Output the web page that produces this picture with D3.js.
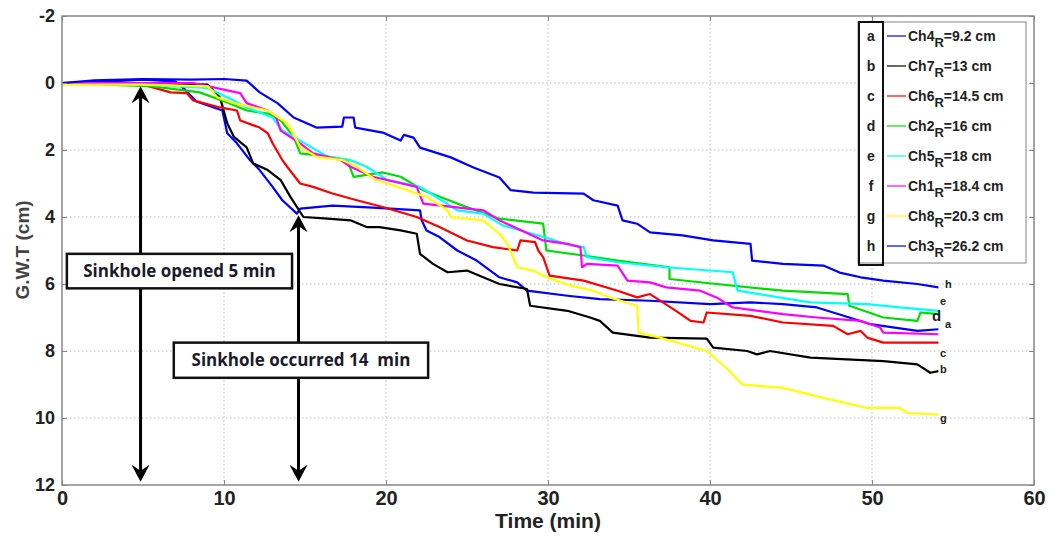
<!DOCTYPE html>
<html>
<head>
<meta charset="utf-8">
<script src="https://cdn.jsdelivr.net/npm/d3@7"></script>
<style>
  body { margin: 0; background: #fff; }
  svg { display: block; }
</style>
</head>
<body>
<svg id="chart" width="1049" height="539"></svg>
<script>
// data: [time (min), G.W.T (cm)]
var serA = [[0,0],[3,-0.05],[5,-0.1],[7,-0.05],[7.6,0.2],[8.3,0.55],[9.9,0.82],[10.2,1.5],[10.8,1.8],[11.6,2.3],[12.2,2.6],[13,3.1],[13.6,3.5],[14.5,3.9],[14.7,3.75],[16.7,3.66],[19.2,3.72],[22.1,3.8],[22.2,4.1],[22.5,4.4],[23.3,4.6],[24.4,5.0],[25.6,5.3],[27,5.8],[28.1,5.95],[28.7,6.2],[31.2,6.35],[33.2,6.45],[36.3,6.5],[40,6.6],[42.5,6.55],[44.5,6.6],[46.6,6.7],[48.6,7.0],[49.9,7.2],[52.8,7.4],[54.1,7.35]];
var serB = [[0,0],[5,0],[9,0.05],[9.75,0.43],[10.2,1.2],[10.6,1.6],[11.4,1.92],[11.8,2.4],[12.7,2.6],[13.5,2.9],[14.1,3.4],[14.9,4.0],[16.4,4.05],[17.8,4.1],[18.8,4.3],[19.6,4.3],[20.9,4.4],[21.9,4.5],[22.1,5.1],[22.9,5.4],[23.8,5.65],[25,5.6],[26,5.8],[27,6.0],[28.7,6.15],[28.9,6.65],[31.2,6.8],[32.6,7.0],[33.2,7.1],[34,7.45],[36.3,7.6],[39.8,7.63],[40.2,7.9],[42.3,8.0],[42.9,8.1],[43.7,8.0],[46.2,8.2],[50.7,8.3],[52.8,8.4],[53.6,8.65],[54.1,8.6]];
var serC = [[0,0],[5,0.05],[6.7,0.28],[7.7,0.3],[8.1,0.52],[9.75,0.73],[10.8,0.82],[11,1.12],[12.2,1.33],[12.7,1.5],[13,1.8],[13.6,2.3],[13.9,2.5],[14.7,3.0],[15.5,3.1],[16.7,3.3],[18.2,3.5],[19.8,3.7],[21.9,4.0],[23.3,4.3],[25,4.7],[26.6,4.9],[28.1,5.0],[28.3,4.7],[29.2,4.75],[29.4,5.0],[29.7,5.2],[30.1,5.75],[32.2,5.9],[34.3,6.2],[35.5,6.4],[36.3,6.3],[37.9,6.8],[38.8,7.1],[39.6,7.15],[39.8,6.85],[42.5,6.95],[44.5,7.15],[47.6,7.25],[48.5,7.5],[49.3,7.4],[49.7,7.6],[50.7,7.75],[54.1,7.75]];
var serD = [[0,0],[5.6,0.1],[8.5,0.28],[10.2,0.58],[11.4,0.82],[12.7,0.91],[13.5,1.12],[14.3,1.6],[14.7,2.1],[16.4,2.2],[17.6,2.3],[18,2.8],[19.8,2.67],[20.9,2.8],[22.3,3.2],[24.4,3.6],[27,4.05],[29.7,4.2],[29.9,5.0],[32.2,5.15],[34.3,5.3],[37.5,5.5],[37.5,5.85],[40.4,6.0],[44.5,6.2],[48.5,6.3],[48.6,6.65],[50.7,7.0],[52.8,7.1],[53,6.85],[54.1,6.9]];
var serE = [[0,0],[5,0.05],[9,0.15],[10.5,0.5],[11.4,0.73],[13,1.03],[13.6,1.42],[13.9,1.5],[14.9,1.78],[16.4,2.2],[17.8,2.3],[18.8,2.5],[20.1,2.9],[22.1,3.1],[24.4,3.8],[26,3.9],[27.2,4.25],[30.1,4.65],[31.4,4.85],[32.2,4.9],[32.4,5.2],[34.3,5.35],[37.3,5.5],[41.4,5.65],[41.7,6.2],[46.2,6.55],[49.7,6.6],[51.7,6.7],[54.1,6.8]];
var serF = [[0,0],[5,0],[8.1,0],[10.2,0.22],[11,0.3],[11.4,0.6],[12.7,0.82],[13.2,1.0],[13.5,1.42],[14.7,1.8],[15.5,2.1],[17.2,2.3],[17.8,2.5],[19.2,2.8],[21.9,3.1],[22.3,3.6],[26,3.8],[27,4.1],[29.7,4.7],[31.2,4.8],[32,4.9],[32.1,5.5],[32.4,5.4],[34.3,5.45],[34.9,5.9],[36.3,5.95],[37.3,6.1],[39.4,6.2],[40.4,6.4],[41.4,6.7],[44.5,6.9],[46.6,7.0],[49.3,7.1],[50.5,7.3],[50.7,7.45],[54.1,7.5]];
var serG = [[0,0.05],[5,0.05],[9,0.1],[9.6,0.43],[10.6,0.6],[11.8,0.73],[12.7,0.82],[13.9,1.2],[14.7,1.9],[15.7,2.2],[17.3,2.3],[18.2,2.5],[19.4,2.9],[20.1,3.0],[22.5,3.4],[23.8,3.8],[24,4.0],[26,4.1],[27,4.5],[27.5,4.8],[28.1,5.5],[29.1,5.6],[29.9,5.8],[31.4,6.05],[32.8,6.2],[33.8,6.4],[35.5,6.65],[35.6,7.45],[36.9,7.6],[39.8,8.0],[41,8.5],[42,9.0],[44.5,9.1],[47,9.4],[49.7,9.7],[51.7,9.7],[52.2,9.85],[54.1,9.9]];
var serH = [[0,0],[2,-0.08],[5,-0.12],[8,-0.1],[10,-0.12],[11.4,-0.07],[12.2,0.28],[13.3,0.6],[14.3,1.03],[15.7,1.33],[17.3,1.3],[17.4,1.03],[18,1.03],[18.1,1.33],[19.8,1.48],[20.9,1.72],[21.1,1.55],[21.7,1.63],[22.1,1.93],[24,2.22],[25.4,2.52],[27,2.82],[27.7,3.2],[29.1,3.27],[32.2,3.3],[32.8,3.5],[34.3,3.66],[34.6,4.1],[35.5,4.2],[36.3,4.46],[38.3,4.55],[40.2,4.7],[42.5,4.8],[42.6,5.3],[44.5,5.4],[47,5.45],[48,5.66],[49.3,5.8],[50.7,5.9],[52.8,6.0],[54.1,6.1]];

var letters = ["a","b","c","d","e","f","g","h"];
var channels = ["Ch4","Ch7","Ch6","Ch2","Ch5","Ch1","Ch8","Ch3"];
var radii = ["9.2","13","14.5","16","18","18.4","20.3","26.2"];
var colors = ["#0000ff","#000000","#ff0000","#00dd00","#00ffff","#ff00ff","#ffff00","#0000ff"];
var series = [serA, serB, serC, serD, serE, serF, serG, serH];

// letter tags at line ends: [letter, t, y]
var endTags = [["h",54.5,6.0],["e",54.2,6.5],["d",53.7,6.95],["a",54.5,7.2],["c",54.2,8.05],["b",54.2,8.55],["g",54.2,10.0]];

var xTicks = [0,10,20,30,40,50,60];
var yTicks = [-2,0,2,4,6,8,10,12];

var svg = d3.select("#chart");
var x = d3.scaleLinear().domain([0,60]).range([62,1034]);
var y = d3.scaleLinear().domain([-2,12]).range([16,485]);

svg.append("rect").attr("width",1049).attr("height",539).attr("fill","#fff");

// grid
svg.append("g").selectAll("line.gx").data(xTicks.slice(1,-1)).enter().append("line")
    .attr("x1",d => x(d)).attr("x2",d => x(d)).attr("y1",y(-2)).attr("y2",y(12))
    .attr("stroke","#bbb").attr("stroke-width",1).attr("stroke-dasharray","1.5,2.5");
svg.append("g").selectAll("line.gy").data(yTicks.slice(1,-1)).enter().append("line")
    .attr("x1",x(0)).attr("x2",x(60)).attr("y1",d => y(d)).attr("y2",d => y(d))
    .attr("stroke","#bbb").attr("stroke-width",1).attr("stroke-dasharray","1.5,2.5");

// lines
var line = d3.line().x(d => x(d[0])).y(d => y(d[1]));
svg.append("g").selectAll("path").data(series).enter().append("path")
    .attr("d",line).attr("fill","none")
    .attr("stroke",(d,i) => colors[i]).attr("stroke-width",2.2)
    .attr("stroke-linejoin","round");

// frame + axes
svg.append("rect").attr("x",x(0)).attr("y",y(-2)).attr("width",x(60)-x(0)).attr("height",y(12)-y(-2))
    .attr("fill","none").attr("stroke","#888").attr("stroke-width",1.5);

var xAxis = svg.append("g").attr("transform","translate(0," + y(12) + ")")
    .call(d3.axisBottom(x).tickValues(xTicks).tickSizeInner(-5).tickSizeOuter(0).tickPadding(6));
var yAxis = svg.append("g").attr("transform","translate(" + x(0) + ",0)")
    .call(d3.axisLeft(y).tickValues(yTicks).tickFormat(d => String(d)).tickSizeInner(-5).tickSizeOuter(0).tickPadding(7));
svg.append("g").attr("transform","translate(0," + y(-2) + ")")
    .call(d3.axisTop(x).tickValues(xTicks).tickSizeInner(-5).tickSizeOuter(0).tickFormat(""));
svg.append("g").attr("transform","translate(" + x(60) + ",0)")
    .call(d3.axisRight(y).tickValues(yTicks).tickSizeInner(-5).tickSizeOuter(0).tickFormat(""));
svg.selectAll(".domain").remove();
svg.selectAll(".tick line").attr("stroke","#888");

xAxis.selectAll("text").attr("font-family","'Liberation Sans Narrow', 'Arial Narrow', sans-serif")
    .attr("font-weight","bold").attr("font-size",20).attr("fill","#222");
yAxis.selectAll("text").attr("font-family","'Liberation Sans', Arial, sans-serif")
    .attr("font-weight","bold").attr("font-size",18).attr("fill","#222");

svg.append("text").attr("x",548).attr("y",528).attr("text-anchor","middle")
    .attr("font-family","'Liberation Sans Narrow', 'Arial Narrow', sans-serif")
    .attr("font-weight","bold").attr("font-size",21).attr("fill","#222").text("Time (min)");
svg.append("text").attr("transform","translate(29,250) rotate(-90)").attr("text-anchor","middle")
    .attr("font-family","'Liberation Sans', Arial, sans-serif")
    .attr("font-weight","bold").attr("font-size",19).attr("fill","#444").text("G.W.T (cm)");

// end tags
svg.append("g").selectAll("text").data(endTags).enter().append("text")
    .attr("x",d => x(d[1])).attr("y",d => y(d[2])).attr("dy","0.35em")
    .attr("font-family","'Liberation Sans', Arial, sans-serif").attr("font-weight","bold")
    .attr("font-size",d => d[0] == "d" ? 15 : 11).attr("fill","#222").text(d => d[0]);

// arrows
function arrowHead(g, px, py, dir) {
    var h = 17, w = 9, n = 6;
    var p = [[px,py],[px - w,py - dir*h],[px,py - dir*(h - n)],[px + w,py - dir*h]];
    g.append("path").attr("d","M" + p.join("L") + "Z").attr("fill","#000");
}
var arrows = [[4.85,0.1,11.9],[14.6,3.95,11.9]];
arrows.forEach(function (a) {
    var g = svg.append("g");
    g.append("line").attr("x1",x(a[0])).attr("x2",x(a[0])).attr("y1",y(a[1]) + 6).attr("y2",y(a[2]) - 6)
        .attr("stroke","#000").attr("stroke-width",3);
    arrowHead(g, x(a[0]), y(a[1]), -1);
    arrowHead(g, x(a[0]), y(a[2]), 1);
});

// annotation boxes: [text, t0, t1, y0, y1]
var notes = [["Sinkhole opened 5 min",0.3,14.2,5.1,6.13],["Sinkhole occurred 14  min",6.9,22.6,7.75,8.8]];
notes.forEach(function (n) {
    svg.append("rect").attr("x",x(n[1])).attr("y",y(n[3])).attr("width",x(n[2]) - x(n[1])).attr("height",y(n[4]) - y(n[3]))
        .attr("fill","#fff").attr("stroke","#111").attr("stroke-width",2.5);
    svg.append("text").attr("x",(x(n[1]) + x(n[2])) / 2).attr("y",(y(n[3]) + y(n[4])) / 2).attr("dy","0.36em")
        .attr("text-anchor","middle").attr("font-family","'Open Sans', sans-serif").attr("font-weight","bold")
        .attr("font-size",17).attr("fill","#1a1a2a").style("white-space","pre").text(n[0]);
});

// legend
var lg = svg.append("g");
lg.append("rect").attr("x",858).attr("y",22).attr("width",168).attr("height",241)
    .attr("fill","#fff").attr("stroke","#999").attr("stroke-width",1.2);
lg.append("rect").attr("x",859).attr("y",22).attr("width",24).attr("height",243)
    .attr("fill","none").attr("stroke","#111").attr("stroke-width",2);
var rows = lg.selectAll("g.row").data(channels).enter().append("g")
    .attr("transform",(d,i) => "translate(0," + (36 + i * 30) + ")");
rows.append("text").attr("x",871).attr("dy","0.35em").attr("text-anchor","middle")
    .attr("font-family","'Liberation Sans', Arial, sans-serif").attr("font-weight","bold")
    .attr("font-size",14).attr("fill","#222").text((d,i) => letters[i]);
rows.append("line").attr("x1",887).attr("x2",906).attr("stroke",(d,i) => colors[i]).attr("stroke-width",1.2);
var lt = rows.append("text").attr("x",908).attr("dy","0.35em")
    .attr("font-family","'Liberation Sans', Arial, sans-serif").attr("font-weight","bold")
    .attr("font-size",14).attr("fill","#222");
lt.append("tspan").text(d => d);
lt.append("tspan").attr("dy",6).attr("font-size",13).text("R");
lt.append("tspan").attr("dy",-6).text((d,i) => "=" + radii[i] + " cm");
</script>
</body>
</html>
